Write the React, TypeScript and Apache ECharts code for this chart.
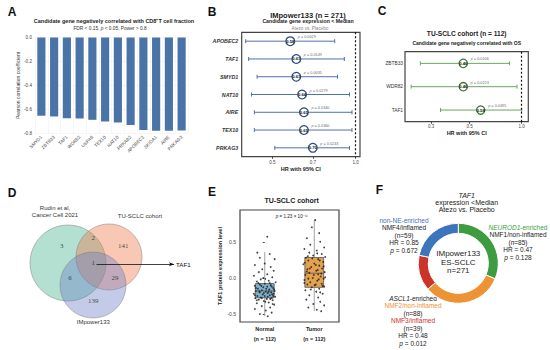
import React, { useEffect, useRef } from 'react';
import * as echarts from 'echarts';

const SANS = '"Liberation Sans", Arial, Helvetica, sans-serif';
const SERIF = '"Liberation Serif", "Times New Roman", serif';

// ---------- Panel A data ----------
const A_GENES = ['SMYD1', 'ZBTB33', 'TAF1', 'WDR82', 'USP46', 'TEX10', 'NAT10', 'PRKAB2', 'APOBEC2', 'SKIDA1', 'AIRE', 'PRKAG3'];
const A_R = [-0.652, -0.658, -0.672, -0.675, -0.686, -0.7, -0.708, -0.73, -0.77, -0.778, -0.778, -0.775];

// ---------- Panel B data ----------
const B_GENES = ['APOBEC2', 'TAF1', 'SMYD1', 'NAT10', 'AIRE', 'TEX10', 'PRKAG3'];
const B_HR = [0.58, 0.61, 0.61, 0.64, 0.65, 0.65, 0.7];
const B_LO = [0.4, 0.41, 0.44, 0.42, 0.43, 0.43, 0.51];
const B_HI = [0.84, 0.91, 0.86, 0.95, 0.97, 0.97, 0.95];
const B_P = ['0.0029', '0.0149', '0.0035', '0.0279', '0.0340', '0.0360', '0.0243'];
const B_TICKS = [0.5, 0.7, 1.0];

// ---------- Panel C data ----------
const C_GENES = ['ZBTB33', 'WDR82', 'TAF1'];
const C_HR = [0.46, 0.46, 0.58];
const C_LO = [0.26, 0.23, 0.34];
const C_HI = [0.85, 0.94, 1.0];
const C_P = ['0.0106', '0.0223', '0.0495'];
const C_TICKS = [0.3, 0.5, 1.0];

// ---------- Panel D data ----------
const VENN_SETS = ['Rudin et al,\nCancer Cell 2021', 'TU-SCLC cohort', 'IMpower133'];
const VENN_COUNTS = [3, 2, 141, 6, 1, 29, 139]; // R only, R&T, T only, R&I, all, T&I, I only
const VENN_HIT = 'TAF1';

// ---------- Panel E data ----------
const E_GROUPS = ['Normal', 'Tumor'];
const E_N = [112, 112];
const E_BOX = [
  [-0.53, -0.275, -0.18, -0.078, 0.36],
  [-0.46, -0.13, 0.065, 0.283, 0.8],
];
// [x jitter, value]
const E_NORMAL = [
  [0.05, 0.57], [-0.15, 0.35], [0.1, 0.33], [-0.1, 0.28], [0.2, 0.26], [0.0, 0.2], [-0.2, 0.18], [0.12, 0.15],
  [-0.05, 0.12], [0.18, 0.1], [-0.12, 0.08], [0.05, 0.05], [-0.22, 0.03], [0.15, 0.01], [-0.08, -0.02], [0.08, -0.04],
  [-0.16, -0.05], [0.22, -0.06], [0.0, -0.08], [-0.1, -0.09], [0.12, -0.1], [-0.2, -0.11], [0.05, -0.12], [-0.03, -0.13],
  [0.17, -0.14], [-0.14, -0.15], [0.09, -0.16], [-0.06, -0.17], [0.2, -0.18], [-0.18, -0.18], [0.02, -0.19], [0.13, -0.2],
  [-0.1, -0.2], [0.06, -0.21], [-0.22, -0.22], [0.18, -0.22], [-0.04, -0.23], [0.1, -0.24], [-0.15, -0.25], [0.0, -0.25],
  [0.21, -0.26], [-0.08, -0.27], [0.14, -0.28], [-0.19, -0.28], [0.04, -0.29], [-0.12, -0.3], [0.16, -0.31], [-0.02, -0.32],
  [0.08, -0.34], [-0.16, -0.35], [0.19, -0.37], [-0.06, -0.39], [0.11, -0.41], [-0.2, -0.43], [0.02, -0.45], [0.14, -0.48],
  [-0.1, -0.5], [0.06, -0.53],
  [-0.07, -0.11], [0.14, -0.12], [-0.18, -0.14], [0.03, -0.15], [0.19, -0.16], [-0.11, -0.19], [0.08, -0.19], [-0.02, -0.21],
  [0.15, -0.23], [-0.2, -0.24], [0.06, -0.26], [-0.06, -0.28], [0.11, -0.29], [-0.16, -0.31], [0.01, -0.33], [0.17, -0.25],
  [-0.13, -0.07], [0.1, -0.07], [-0.03, 0.0], [0.16, -0.36],
];
const E_TUMOR = [
  [0.02, 0.8], [-0.05, 0.7], [0.1, 0.62], [-0.15, 0.55], [0.12, 0.5], [-0.08, 0.46], [0.2, 0.42], [-0.2, 0.4],
  [0.05, 0.38], [-0.1, 0.35], [0.15, 0.33], [-0.02, 0.31], [0.22, 0.29], [-0.17, 0.28], [0.08, 0.26], [-0.12, 0.24],
  [0.18, 0.22], [0.0, 0.2], [-0.22, 0.19], [0.1, 0.17], [-0.06, 0.15], [0.16, 0.13], [-0.14, 0.12], [0.04, 0.1],
  [0.21, 0.08], [-0.1, 0.07], [0.08, 0.05], [-0.18, 0.04], [0.13, 0.02], [-0.03, 0.0], [0.19, -0.01], [-0.2, -0.03],
  [0.06, -0.04], [-0.08, -0.06], [0.15, -0.08], [-0.14, -0.09], [0.01, -0.1], [0.2, -0.12], [-0.05, -0.13], [0.1, -0.15],
  [-0.18, -0.17], [0.04, -0.19], [0.17, -0.22], [-0.1, -0.24], [0.08, -0.27], [-0.16, -0.3], [0.12, -0.33], [-0.02, -0.36],
  [0.2, -0.38], [-0.12, -0.41], [0.05, -0.44], [0.14, -0.46],
  [-0.04, 0.27], [0.11, 0.24], [-0.19, 0.21], [0.03, 0.18], [0.19, 0.16], [-0.09, 0.13], [0.07, 0.11], [-0.15, 0.09],
  [0.14, 0.06], [-0.01, 0.04], [0.22, 0.01], [-0.12, -0.01], [0.09, -0.02], [-0.2, -0.07], [0.03, -0.09], [0.17, -0.11],
  [-0.07, -0.16], [0.12, -0.2], [-0.13, 0.3], [0.06, 0.34],
];
const E_P = '1.23 × 10⁻¹¹';

// ---------- Panel F data ----------
const F_SUBTYPES = ['NMF1', 'NMF2', 'NMF3', 'NMF4'];
const F_N = [85, 88, 39, 59];
const F_HR = ['0.47', '0.48', '0.85'];
const F_PV = ['0.128', '0.012', '0.672'];

// ---------- layout / style (not data) ----------
const F_COLORS = ['#3d9c3f', '#ee9236', '#cc3329', '#3d74bb'];
const VENN_CIRCLES = [
  { c: [68, 263], r: 38, color: 'rgba(65,178,138,0.5)' },
  { c: [109, 257], r: 33, color: 'rgba(238,118,68,0.5)' },
  { c: [93, 285], r: 33, color: 'rgba(108,126,198,0.5)' },
];
const VENN_COUNT_POS = [[61.7, 246], [93.3, 237.5], [123.3, 246], [70, 277.7], [93.3, 263.3], [115, 277.7], [93.3, 301]];
const VENN_ARROW = [[96.5, 264.3], [174, 264.3]];

const ln = Math.log;

function T(x: number, y: number, text: string, size: number, o: any = {}) {
  const st: any = {
    text,
    fontSize: size,
    fontFamily: o.family || SANS,
    fontWeight: o.bold ? 'bold' : 'normal',
    fontStyle: o.italic ? 'italic' : 'normal',
    fill: o.color || '#222',
    align: o.align || 'center',
    textAlign: o.align || 'center',
    verticalAlign: 'middle',
    textVerticalAlign: 'middle',
  };
  if (o.lh) st.lineHeight = o.lh;
  if (o.rich) st.rich = o.rich;
  return { type: 'text', x, y, silent: true, style: st };
}

function rs(size: number, extra: any = {}) {
  return { fontSize: size, fontFamily: SANS, fontWeight: 'normal', fontStyle: 'normal', color: '#222', fill: '#222', ...extra };
}

const forestRender = (color: string) => (params: any, api: any) => {
  const y = api.value(1);
  const a = api.coord([api.value(0), y]);
  const b = api.coord([api.value(2), y]);
  const c = 2;
  const st = () => ({ stroke: color, lineWidth: 1 });
  return {
    type: 'group',
    children: [
      { type: 'line', shape: { x1: a[0], y1: a[1], x2: b[0], y2: b[1] }, style: st() },
      { type: 'line', shape: { x1: a[0], y1: a[1] - c, x2: a[0], y2: a[1] + c }, style: st() },
      { type: 'line', shape: { x1: b[0], y1: b[1] - c, x2: b[0], y2: b[1] + c }, style: st() },
    ],
  };
};

const E_FILL = ['#7eb0cb', '#e4a24e'];
const boxRender = (params: any, api: any) => {
  const x = api.value(0);
  const lo = api.coord([x, api.value(1)]);
  const q1 = api.coord([x, api.value(2)]);
  const med = api.coord([x, api.value(3)]);
  const q3 = api.coord([x, api.value(4)]);
  const hi = api.coord([x, api.value(5)]);
  const half = api.size([0.38, 0])[0] / 2;
  return {
    type: 'group',
    children: [
      { type: 'line', shape: { x1: lo[0], y1: lo[1], x2: hi[0], y2: hi[1] }, style: { stroke: '#888', lineWidth: 0.8 } },
      { type: 'rect', shape: { x: q3[0] - half, y: q3[1], width: half * 2, height: q1[1] - q3[1] }, style: { fill: E_FILL[params.dataIndex], stroke: '#555', lineWidth: 0.8 } },
      { type: 'line', shape: { x1: med[0] - half, y1: med[1], x2: med[0] + half, y2: med[1] }, style: { stroke: '#555', lineWidth: 0.8 } },
    ],
  };
};

function forestSeries(gi: number, hr: number[], lo: number[], hi: number[], pv: string[], ciColor: string, ringColor: string, size: number) {
  const pts = hr.map((h, i) => [ln(h), i]);
  return [
    {
      type: 'custom', xAxisIndex: gi, yAxisIndex: gi, silent: true, z: 2,
      data: hr.map((h, i) => [ln(lo[i]), i, ln(hi[i])]),
      encode: { x: [0, 2], y: 1 },
      renderItem: forestRender(ciColor),
    },
    {
      type: 'scatter', xAxisIndex: gi, yAxisIndex: gi, silent: true, z: 3,
      data: pts, symbol: 'circle', symbolSize: size,
      itemStyle: { color: '#fff', borderColor: ringColor, borderWidth: 1.3, opacity: 1 },
      label: { show: true, position: 'inside', formatter: (p: any) => hr[p.dataIndex].toFixed(2), fontSize: 4.2, fontWeight: 'bold', color: '#111', fontFamily: SANS },
      markLine: {
        silent: true, symbol: 'none', animation: false,
        label: { show: false },
        lineStyle: { type: [2, 2], color: '#111', width: 1.2 },
        data: [{ xAxis: 0 }],
      },
    },
    {
      type: 'scatter', xAxisIndex: gi, yAxisIndex: gi, silent: true, z: 4,
      data: pts, symbolSize: 1, itemStyle: { color: 'rgba(0,0,0,0)' },
      label: {
        show: true, position: [8, -3.5], align: 'left', verticalAlign: 'middle',
        formatter: (p: any) => `{i|p} = ${pv[p.dataIndex]}`,
        fontSize: 3.8, color: '#333', fontFamily: SANS,
        rich: { i: { fontStyle: 'italic', fontSize: 3.8, fontFamily: SANS, color: '#333' } },
      },
    },
  ];
}

const axisLbl = { fontFamily: SANS, color: '#444' };

const option: any = {
  animation: false,
  backgroundColor: '#fff',
  textStyle: { fontFamily: SANS },
  grid: [
    { left: 35, top: 37.5, width: 153, height: 96 },
    { left: 241.7, top: 32.3, width: 118.3, height: 124.4, show: true, borderColor: '#444', borderWidth: 1.2 },
    { left: 405, top: 51.7, width: 123.3, height: 70, show: true, borderColor: '#444', borderWidth: 1.2 },
    { left: 0, top: 175, width: 190, height: 175 },
    { left: 240, top: 210, width: 99, height: 112, show: true, borderColor: '#444', borderWidth: 1.2 },
  ],
  xAxis: [
    {
      type: 'category', gridIndex: 0, data: A_GENES,
      axisLine: { show: false }, axisTick: { show: false },
      axisLabel: { ...axisLbl, rotate: 45, fontSize: 4.6, margin: 3, interval: 0 },
      splitLine: { show: true, lineStyle: { color: '#ececec', width: 0.5 } },
    },
    {
      type: 'value', gridIndex: 1, min: ln(0.387), max: ln(1.037),
      axisLine: { show: false }, splitLine: { show: false },
      axisTick: { show: true, length: 2, customValues: B_TICKS.map(ln), lineStyle: { color: '#444' } },
      axisLabel: { ...axisLbl, customValues: B_TICKS.map(ln), formatter: (v: number) => Math.exp(v).toFixed(1), fontSize: 4.6, margin: 3 },
      name: 'HR with 95% CI', nameLocation: 'middle', nameGap: 9,
      nameTextStyle: { fontSize: 5.5, fontWeight: 'bold', color: '#222', fontFamily: SANS },
    },
    {
      type: 'value', gridIndex: 2, min: ln(0.212), max: ln(1.092),
      axisLine: { show: false }, splitLine: { show: false },
      axisTick: { show: true, length: 2, customValues: C_TICKS.map(ln), lineStyle: { color: '#444' } },
      axisLabel: { ...axisLbl, customValues: C_TICKS.map(ln), formatter: (v: number) => Math.exp(v).toFixed(1), fontSize: 4.5, margin: 2.5 },
      name: 'HR with 95% CI', nameLocation: 'middle', nameGap: 7,
      nameTextStyle: { fontSize: 5.5, fontWeight: 'bold', color: '#222', fontFamily: SANS },
    },
    { type: 'value', gridIndex: 3, min: 0, max: 190, show: false },
    {
      type: 'category', gridIndex: 4, data: E_GROUPS,
      axisLine: { show: false },
      axisTick: { show: true, alignWithLabel: true, length: 2, lineStyle: { color: '#444' } },
      axisLabel: {
        fontFamily: SANS, fontWeight: 'bold', fontSize: 5.5, color: '#222', lineHeight: 10, margin: 1.5,
        formatter: (v: string, i: number) => `${v}\n(n = ${E_N[i]})`,
      },
    },
    { type: 'value', gridIndex: 4, min: -0.5, max: 1.5, show: false },
  ],
  yAxis: [
    {
      type: 'value', gridIndex: 0, min: -0.8, max: 0, interval: 0.2,
      name: 'Pearson correlation coefficient', nameLocation: 'middle', nameGap: 13,
      nameTextStyle: { fontSize: 5, color: '#333', fontFamily: SANS },
      axisLine: { show: false }, axisTick: { show: false },
      axisLabel: { ...axisLbl, fontSize: 4.6, margin: 3, formatter: (v: number) => (Math.abs(v) < 1e-9 ? '0.0' : v.toFixed(1)) },
      splitLine: { lineStyle: { color: '#ececec', width: 0.5 } },
    },
    {
      type: 'category', gridIndex: 1, data: B_GENES, inverse: true,
      axisLine: { show: false }, axisTick: { show: false },
      axisLabel: { fontFamily: SANS, fontSize: 5.3, fontWeight: 'bold', fontStyle: 'italic', color: '#333', margin: 3.5 },
    },
    {
      type: 'category', gridIndex: 2, data: C_GENES, inverse: true,
      axisLine: { show: false }, axisTick: { show: false },
      axisLabel: { fontFamily: SANS, fontSize: 4.8, color: '#333', margin: 2 },
    },
    { type: 'value', gridIndex: 3, min: 175, max: 350, inverse: true, show: false },
    {
      type: 'value', gridIndex: 4, min: -0.61, max: 0.94,
      axisLine: { show: false }, splitLine: { show: false },
      axisTick: { show: true, length: 2, customValues: [-0.5, 0, 0.5], lineStyle: { color: '#444' } },
      axisLabel: { ...axisLbl, customValues: [-0.5, 0, 0.5], formatter: (v: number) => v.toFixed(1), fontSize: 5, margin: 4 },
      name: 'TAF1 protein expression level', nameLocation: 'middle', nameGap: 14,
      nameTextStyle: { fontSize: 5.5, fontWeight: 'bold', color: '#222', fontFamily: SANS },
    },
  ],
  series: [
    // A
    { type: 'bar', xAxisIndex: 0, yAxisIndex: 0, data: A_R, barWidth: '64%', itemStyle: { color: '#4a74a8' }, silent: true },
    // B
    ...forestSeries(1, B_HR, B_LO, B_HI, B_P, '#4d72a8', '#2a4c80', 8.7),
    // C
    ...forestSeries(2, C_HR, C_LO, C_HI, C_P, '#6aa85a', '#3c7a30', 8.3),
    // D Venn circles
    {
      type: 'scatter', xAxisIndex: 3, yAxisIndex: 3, silent: true, z: 2,
      data: VENN_CIRCLES.map((v) => ({ value: v.c, symbolSize: v.r * 2, itemStyle: { color: v.color } })),
      itemStyle: { borderColor: '#7a7a7a', borderWidth: 0.6 },
    },
    // D counts
    {
      type: 'scatter', xAxisIndex: 3, yAxisIndex: 3, silent: true, z: 5,
      data: VENN_COUNTS.map((n, i) => VENN_COUNT_POS[i]),
      symbolSize: 1, itemStyle: { color: 'rgba(0,0,0,0)' },
      label: { show: true, position: 'inside', formatter: (p: any) => String(VENN_COUNTS[p.dataIndex]), fontFamily: SERIF, fontSize: 7, color: '#222' },
      markLine: {
        silent: true, symbol: ['none', 'arrow'], symbolSize: [3, 5],
        label: { show: false },
        lineStyle: { type: 'solid', color: '#111', width: 0.8 },
        data: [[{ coord: VENN_ARROW[0] }, { coord: VENN_ARROW[1] }]],
      },
    },
    // E boxes
    {
      type: 'custom', xAxisIndex: 5, yAxisIndex: 4, silent: true, z: 2,
      data: E_BOX.map((b, i) => [i, ...b]),
      encode: { x: 0, y: [1, 2, 3, 4, 5] },
      renderItem: boxRender,
    },
    // E points
    {
      type: 'scatter', xAxisIndex: 5, yAxisIndex: 4, silent: true, z: 4,
      data: [...E_NORMAL.map((d) => [0 + d[0], d[1]]), ...E_TUMOR.map((d) => [1 + d[0], d[1]])],
      symbolSize: 1.8, itemStyle: { color: '#222', opacity: 0.85 },
    },
    // F donut
    {
      type: 'pie', center: [458.3, 263.3], radius: [30, 40], startAngle: 90, clockwise: true, silent: true,
      label: { show: false }, labelLine: { show: false },
      itemStyle: { borderColor: '#fff', borderWidth: 1 },
      data: F_N.map((n, i) => ({ value: n, name: F_SUBTYPES[i], itemStyle: { color: F_COLORS[i] } })),
    },
  ],
  graphic: {
    elements: [
      // letters
      T(12, 12, 'A', 12, { bold: true, color: '#111' }),
      T(212, 12, 'B', 12, { bold: true, color: '#111' }),
      T(382, 10.5, 'C', 12, { bold: true, color: '#111' }),
      T(12, 192.5, 'D', 12, { bold: true, color: '#111' }),
      T(212, 192, 'E', 12, { bold: true, color: '#111' }),
      T(379.5, 190, 'F', 12, { bold: true, color: '#111' }),
      // A titles
      T(114, 21, 'Candidate gene negatively correlated with CD8⁺T cell fraction', 5.5, { bold: true }),
      T(110, 28.3, 'FDR < 0.15, {i|p} < 0.05, Power > 0.8', 4.8, { color: '#333', rich: { i: rs(4.8, { fontStyle: 'italic', fill: '#333' }) } }),
      // B titles
      T(308, 15, 'IMpower133 (n = 271)', 7.5, { bold: true }),
      T(308, 21.3, 'Candidate gene expression < Median', 5.2, { bold: true }),
      T(310, 28.3, 'Atezo vs. Placebo', 4.6, { color: '#888' }),
      // C titles
      T(466.7, 33.3, 'TU-SCLC cohort (n = 112)', 6.6, { bold: true }),
      T(466.7, 42.7, 'Candidate gene negatively correlated with OS', 5, { bold: true }),
      // D labels
      T(55, 211.7, VENN_SETS[0], 6, { color: '#333', lh: 6.8 }),
      T(140, 215.7, VENN_SETS[1], 6, { color: '#333' }),
      T(93.3, 322, VENN_SETS[2], 6, { color: '#333' }),
      T(176, 264.3, VENN_HIT, 6.2, { align: 'left', color: '#111' }),
      // E titles
      T(291.7, 200, 'TU-SCLC cohort', 7, { bold: true }),
      T(291.7, 216.5, '{i|p} = ' + E_P, 4.6, { color: '#222', rich: { i: rs(4.6, { fontStyle: 'italic' }) } }),
      // F texts
      T(466.7, 195, 'TAF1', 7, { italic: true }),
      T(466.7, 202, 'expression <Median', 7),
      T(466.7, 209, 'Atezo vs. Placebo', 7),
      T(458.3, 262.3, 'IMpower133\nES-SCLC\nn=' + (F_N[0] + F_N[1] + F_N[2] + F_N[3]), 8, { lh: 8.5 }),
      T(404, 235, `{b|non-NE-enriched}\n{t|${F_SUBTYPES[3]}/inflamed}\n{t|(n=${F_N[3]})}\n{t|HR = ${F_HR[2]}}\n{i|p}{t| = ${F_PV[2]}}`, 6.5, {
        lh: 7.5,
        rich: {
          b: rs(6.5, { fill: '#3d74bb', lineHeight: 7.5 }),
          t: rs(6.5, { lineHeight: 7.5 }),
          i: rs(6.5, { fontStyle: 'italic', lineHeight: 7.5 }),
        },
      }),
      T(518, 242, `{gi|NEUROD1}{g|-enriched}\n{t|${F_SUBTYPES[0]}/non-inflamed}\n{t|(}{i|n}{t|=${F_N[0]})}\n{t|HR = ${F_HR[0]}}\n{i|p}{t| = ${F_PV[0]}}`, 6.5, {
        lh: 7.5,
        rich: {
          gi: rs(6.5, { fill: '#3d9c3f', fontStyle: 'italic', lineHeight: 7.5 }),
          g: rs(6.5, { fill: '#3d9c3f', lineHeight: 7.5 }),
          t: rs(6.5, { lineHeight: 7.5 }),
          i: rs(6.5, { fontStyle: 'italic', lineHeight: 7.5 }),
        },
      }),
      T(413, 320.8, `{ai|ASCL1}{t|-enriched}\n{o|${F_SUBTYPES[1]}/non-inflamed}\n{t|(n=${F_N[1]})}\n{r|${F_SUBTYPES[2]}/inflamed}\n{t|(n=${F_N[2]})}\n{t|HR = ${F_HR[1]}}\n{i|p}{t| = ${F_PV[1]}}`, 6.5, {
        lh: 7.5,
        rich: {
          ai: rs(6.5, { fontStyle: 'italic', lineHeight: 7.5 }),
          o: rs(6.5, { fill: '#ee9236', lineHeight: 7.5 }),
          r: rs(6.5, { fill: '#cc3329', lineHeight: 7.5 }),
          t: rs(6.5, { lineHeight: 7.5 }),
          i: rs(6.5, { fontStyle: 'italic', lineHeight: 7.5 }),
        },
      }),
    ],
  },
};

export default function App() {
  const ref = useRef<HTMLDivElement>(null);
  useEffect(() => {
    document.body.style.margin = '0';
    const chart = echarts.init(ref.current as HTMLDivElement, undefined, { renderer: 'svg', width: 550, height: 350 });
    chart.setOption(option);
    return () => chart.dispose();
  }, []);
  return <div ref={ref} style={{ width: 550, height: 350, background: '#fff' }} />;
}
